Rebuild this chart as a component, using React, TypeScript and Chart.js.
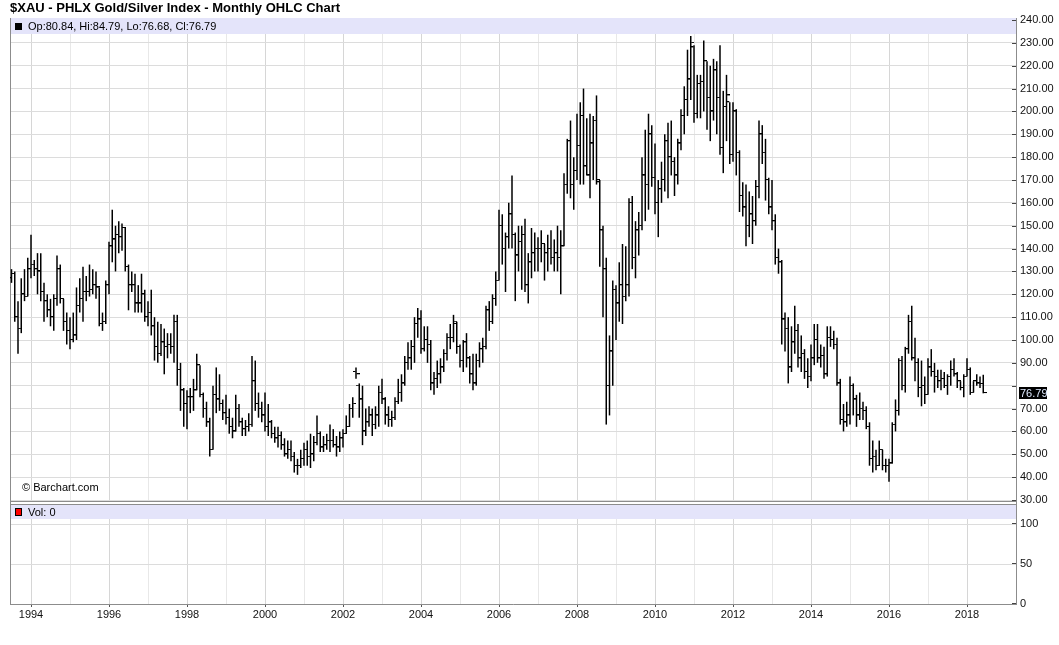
import React, { useEffect, useRef } from 'react';
import { Chart, registerables } from 'chart.js';

Chart.register(...registerables);

// ---------- data (monthly bars, July 1993 .. June 2018) ----------
const startYear = 1993;
const startMonth = 7; // July

const opens = [
  127, 129, 110, 105, 120, 119,
  131, 133, 131, 130, 121, 117, 113, 110, 118, 131, 118, 108,
  104, 100, 102, 115, 118, 121, 121, 122, 124, 123, 107, 108,
  124, 141, 144, 146, 145, 149, 132, 124, 124, 116, 116, 120,
  110, 112, 106, 97, 94, 99, 97, 98, 97, 108, 87, 78,
  72, 75, 75, 78, 89, 76, 70, 64, 52, 76, 74, 72,
  68, 66, 62, 60, 70, 64, 61, 62, 63, 82, 72, 70,
  67, 62, 64, 59, 57, 58, 54, 50, 52, 49, 45, 45,
  48, 52, 49, 50, 55, 59, 53, 54, 56, 56, 54, 53,
  57, 59, 62, 70, 86, 80, 74, 60, 64, 67, 63, 67,
  77, 74, 67, 65, 66, 73, 77, 81, 90, 92, 97, 107,
  109, 96, 100, 98, 81, 83, 85, 88, 94, 101, 101, 107,
  97, 91, 99, 92, 85, 81, 91, 96, 97, 113, 108, 118,
  126, 150, 140, 145, 155, 146, 137, 143, 146, 124, 134, 138,
  140, 140, 142, 138, 140, 136, 138, 136, 141, 168, 187, 168,
  174, 185, 198, 176, 172, 186, 196, 169, 148, 131, 80, 95,
  122, 116, 124, 119, 124, 160, 136, 148, 150, 172, 168, 190,
  171, 160, 166, 170, 187, 180, 178, 172, 186, 198, 205, 214,
  228, 199, 212, 213, 222, 206, 200, 218, 206, 184, 202, 204,
  181, 200, 182, 163, 158, 150, 155, 152, 167, 190, 182, 170,
  158, 152, 136, 134, 109, 105, 88, 99, 104, 92, 94, 86,
  84, 92, 100, 92, 93, 85, 101, 100, 98, 81, 65, 64,
  67, 80, 74, 67, 70, 69, 62, 48, 49, 45, 52, 45,
  45, 46, 63, 69, 91, 80, 96, 108, 92, 90, 79, 80,
  76, 88, 86, 84, 82, 83, 80, 84, 87, 85, 82, 79,
  84, 87, 77, 82, 81, 80.84,
];

const highs = [
  131, 130, 117, 127, 131, 136,
  146, 135, 138, 138, 125, 120, 118, 120, 137, 133, 118, 112,
  110, 112, 123, 127, 132, 128, 133, 131, 130, 123, 112, 126,
  143, 157, 150, 152, 151, 149, 133, 130, 129, 124, 129, 122,
  117, 122, 110, 108, 107, 105, 103, 103, 111, 111, 90, 79,
  78, 79, 83, 94, 89, 77, 73, 66, 80, 88, 85, 74,
  76, 70, 66, 76, 72, 66, 65, 68, 93, 91, 77, 73,
  77, 72, 65, 62, 62, 60, 57, 56, 56, 51, 48, 52,
  55, 56, 59, 58, 67, 60, 58, 59, 63, 61, 58, 60,
  61, 67, 72, 75, 88, 81, 80, 70, 71, 70, 71, 80,
  83, 75, 71, 69, 75, 83, 85, 93, 99, 100, 110, 114,
  113, 106, 106, 100, 86, 91, 92, 96, 103, 107, 111, 108,
  98, 100, 103, 93, 94, 94, 99, 101, 115, 117, 120, 130,
  157, 155, 147, 160, 172, 147, 150, 150, 153, 138, 149, 147,
  145, 148, 142, 146, 148, 144, 150, 148, 173, 188, 196, 180,
  199, 204, 210, 197, 199, 198, 207, 170, 150, 136, 102, 126,
  124, 134, 142, 141, 162, 163, 152, 156, 180, 192, 199, 194,
  186, 170, 178, 190, 195, 196, 180, 188, 201, 211, 227, 233,
  229, 216, 216, 231, 222, 220, 223, 222, 229, 209, 216, 204,
  204, 201, 183, 169, 168, 165, 163, 170, 196, 194, 188, 171,
  170, 155, 140, 135, 112, 110, 106, 115, 107, 102, 96, 92,
  98, 107, 107, 98, 97, 106, 106, 104, 101, 83, 72, 73,
  84, 81, 76, 77, 73, 71, 64, 56, 52, 56, 52, 48,
  48, 64, 74, 92, 93, 97, 111, 115, 101, 92, 91, 84,
  92, 96, 90, 87, 87, 86, 85, 91, 92, 86, 82, 85,
  92, 88, 82, 85, 84, 84.79,
];

const lows = [
  125, 108, 94, 103, 117, 119,
  127, 128, 120, 117, 108, 110, 106, 104, 115, 116, 104, 98,
  96, 99, 100, 112, 108, 117, 119, 120, 118, 106, 104, 107,
  120, 134, 130, 138, 139, 130, 113, 121, 112, 112, 112, 108,
  106, 102, 91, 90, 93, 85, 92, 94, 90, 80, 69, 62,
  61, 68, 69, 78, 75, 66, 62, 49, 52, 68, 69, 65,
  63, 59, 57, 60, 62, 58, 58, 60, 62, 69, 66, 64,
  60, 58, 57, 55, 53, 52, 49, 48, 47, 42, 41, 44,
  45, 45, 44, 47, 54, 51, 51, 52, 51, 53, 49, 51,
  53, 59, 62, 66, 83, 66, 54, 58, 62, 58, 61, 62,
  72, 63, 62, 62, 65, 72, 73, 80, 87, 87, 90, 101,
  94, 95, 90, 78, 76, 79, 81, 86, 91, 96, 99, 94,
  88, 86, 88, 81, 78, 80, 88, 90, 96, 104, 107, 115,
  126, 133, 121, 140, 140, 117, 130, 122, 121, 116, 127, 130,
  130, 134, 126, 130, 133, 130, 130, 120, 141, 164, 162, 157,
  170, 168, 168, 172, 162, 170, 168, 132, 110, 63, 67, 80,
  100, 108, 107, 117, 119, 131, 127, 137, 148, 152, 157, 167,
  155, 145, 160, 165, 162, 172, 163, 168, 183, 190, 198, 205,
  195, 197, 197, 200, 192, 187, 196, 190, 181, 173, 187, 177,
  178, 172, 156, 154, 141, 145, 142, 150, 162, 177, 161, 155,
  148, 133, 129, 98, 95, 81, 86, 94, 88, 86, 83, 79,
  82, 89, 90, 88, 83, 84, 97, 96, 80, 63, 60, 62,
  63, 67, 62, 65, 65, 61, 45, 42, 43, 45, 43, 42,
  38, 46, 60, 67, 78, 77, 94, 91, 82, 75, 71, 72,
  76, 84, 77, 79, 78, 79, 76, 80, 84, 79, 78, 75,
  84, 76, 77, 80, 79, 76.68,
];

const closes = [
  129, 110, 105, 120, 119, 131,
  133, 131, 130, 121, 117, 113, 110, 118, 131, 118, 108, 104,
  100, 102, 115, 118, 121, 121, 122, 124, 123, 107, 108, 124,
  141, 144, 146, 145, 149, 132, 124, 124, 116, 116, 120, 110,
  112, 106, 97, 94, 99, 97, 98, 97, 108, 87, 78, 72,
  75, 75, 78, 89, 76, 70, 64, 52, 76, 74, 72, 68,
  66, 62, 60, 70, 64, 61, 62, 63, 82, 72, 70, 67,
  62, 64, 59, 57, 58, 54, 50, 52, 49, 45, 45, 48,
  52, 49, 50, 55, 59, 53, 54, 56, 56, 54, 53, 57,
  59, 62, 70, 72, 85, 74, 60, 64, 67, 63, 67, 77,
  74, 67, 65, 66, 73, 77, 81, 90, 92, 97, 107, 109,
  96, 100, 98, 81, 83, 85, 88, 94, 101, 101, 108, 97,
  91, 99, 92, 85, 81, 91, 96, 97, 113, 108, 118, 126,
  150, 140, 145, 155, 146, 137, 143, 146, 124, 134, 138, 140,
  140, 142, 138, 140, 136, 138, 136, 141, 168, 187, 168, 174,
  185, 198, 176, 172, 186, 196, 170, 148, 131, 80, 95, 122,
  116, 124, 119, 124, 160, 136, 148, 150, 172, 168, 190, 171,
  160, 166, 170, 187, 180, 178, 172, 186, 198, 205, 214, 230,
  199, 212, 213, 222, 206, 200, 218, 206, 184, 202, 207, 181,
  200, 182, 163, 158, 150, 155, 152, 167, 190, 182, 170, 158,
  152, 136, 134, 109, 105, 88, 99, 104, 92, 94, 86, 84,
  92, 100, 92, 93, 85, 101, 100, 98, 81, 65, 64, 67,
  80, 74, 67, 70, 69, 62, 48, 49, 45, 52, 45, 45,
  46, 63, 69, 91, 80, 96, 108, 92, 90, 79, 80, 76,
  88, 86, 84, 82, 83, 80, 84, 87, 85, 82, 79, 84,
  87, 77, 82, 81, 80.8, 76.79,
];

const volumeLast = 0;
const yearTicks = [1994, 1995, 1996, 1997, 1998, 1999, 2000, 2001, 2002, 2003, 2004, 2005, 2006,
  2007, 2008, 2009, 2010, 2011, 2012, 2013, 2014, 2015, 2016, 2017, 2018];
const priceTicks = [30, 40, 50, 60, 70, 80, 90, 100, 110, 120, 130, 140, 150, 160, 170, 180, 190,
  200, 210, 220, 230, 240];
const volTicks = [0, 50, 100];

const TITLE = '$XAU - PHLX Gold/Silver Index - Monthly OHLC Chart';
const FONT = '"Liberation Sans", Arial, Helvetica, sans-serif';
const BAND = '#e4e4fa';
const FRAME = '#8c8c8c';

// decimal-year date of each monthly bar
const dates = closes.map((_, i) => startYear + (startMonth - 1 + i) / 12);

function makeTick(side: 'left' | 'right'): HTMLCanvasElement {
  const c = document.createElement('canvas');
  c.width = 7;
  c.height = 2;
  const g = c.getContext('2d')!;
  g.fillStyle = '#000';
  if (side === 'left') g.fillRect(0, 0, 3, 1);
  else g.fillRect(4, 0, 3, 1);
  return c;
}

const decorPlugin = {
  id: 'decor',
  beforeDatasetsDraw(chart: any) {
    const { ctx, chartArea: a, scales } = chart;
    const ym = scales.y;
    const split = ym.bottom;
    const w = a.right - a.left;
    ctx.save();
    ctx.fillStyle = '#fff';
    ctx.fillRect(a.left, split, w, 3);
    ctx.fillStyle = BAND;
    ctx.fillRect(a.left, a.top, w, 16);
    ctx.fillRect(a.left, split + 3, w, 15);
    ctx.strokeStyle = FRAME;
    ctx.lineWidth = 1;
    ctx.beginPath();
    ctx.moveTo(a.left + 0.5, a.top);
    ctx.lineTo(a.left + 0.5, a.bottom);
    ctx.moveTo(a.left, Math.round(split) + 0.5);
    ctx.lineTo(a.right, Math.round(split) + 0.5);
    ctx.moveTo(a.left, Math.round(split) + 3.5);
    ctx.lineTo(a.right, Math.round(split) + 3.5);
    ctx.stroke();
    ctx.strokeStyle = '#444';
    ctx.beginPath();
    for (const v of priceTicks) {
      const p = Math.round(ym.getPixelForValue(v)) + 0.5;
      ctx.moveTo(a.right - 4, p);
      ctx.lineTo(a.right, p);
    }
    for (const v of volTicks) {
      const p = Math.round(scales.yVol.getPixelForValue(v)) - 0.5;
      ctx.moveTo(a.right - 4, p);
      ctx.lineTo(a.right, p);
    }
    ctx.stroke();
    const n = closes.length - 1;
    ctx.fillStyle = '#000';
    ctx.fillRect(a.left + 5, a.top + 5, 7, 7);
    ctx.font = '11px ' + FONT;
    ctx.textBaseline = 'middle';
    ctx.textAlign = 'left';
    ctx.fillText(
      `Op:${opens[n].toFixed(2)}, Hi:${highs[n].toFixed(2)}, Lo:${lows[n].toFixed(2)}, Cl:${closes[n].toFixed(2)}`,
      a.left + 18, a.top + 8.5);
    ctx.fillText('\u00a9 Barchart.com', a.left + 12, split - 13);
    ctx.fillStyle = '#ff0000';
    ctx.fillRect(a.left + 5.5, split + 7.5, 6, 7);
    ctx.strokeStyle = '#000';
    ctx.strokeRect(a.left + 5.5, split + 7.5, 6, 7);
    ctx.fillStyle = '#000';
    ctx.fillText(`Vol: ${volumeLast}`, a.left + 18, split + 11.5);
    ctx.restore();
  },
  afterDraw(chart: any) {
    const { ctx, chartArea: a, scales } = chart;
    const n = closes.length - 1;
    const p = scales.y.getPixelForValue(closes[n]);
    ctx.save();
    ctx.fillStyle = '#000';
    ctx.fillRect(a.right + 3, Math.round(p) - 6, 28, 12);
    ctx.fillStyle = '#dfeaff';
    ctx.font = '11px ' + FONT;
    ctx.textBaseline = 'middle';
    ctx.textAlign = 'left';
    ctx.fillText(closes[n].toFixed(2), a.right + 4, Math.round(p) + 0.5);
    ctx.restore();
  },
};

export default function App() {
  const ref = useRef<HTMLCanvasElement>(null);

  useEffect(() => {
    const canvas = ref.current;
    if (!canvas) return;
    const openTick = makeTick('left');
    const closeTick = makeTick('right');

    const chart = new Chart(canvas, {
      type: 'bar',
      data: {
        datasets: [
          {
            type: 'bar',
            label: 'High-Low',
            data: dates.map((d, i) => ({ x: d, y: [lows[i], highs[i]] })) as any,
            backgroundColor: '#000',
            borderWidth: 0,
            barThickness: 1.5,
            inflateAmount: 0,
            xAxisID: 'x',
            yAxisID: 'y',
          } as any,
          {
            type: 'scatter',
            label: 'Open',
            data: dates.map((d, i) => ({ x: d, y: opens[i] })),
            pointStyle: openTick as any,
            pointRadius: 2,
            pointHoverRadius: 2,
            showLine: false,
            xAxisID: 'x',
            yAxisID: 'y',
          } as any,
          {
            type: 'scatter',
            label: 'Close',
            data: dates.map((d, i) => ({ x: d, y: closes[i] })),
            pointStyle: closeTick as any,
            pointRadius: 2,
            pointHoverRadius: 2,
            showLine: false,
            xAxisID: 'x',
            yAxisID: 'y',
          } as any,
        ],
      },
      options: {
        animation: false,
        responsive: false,
        devicePixelRatio: 1,
        events: [],
        layout: { padding: { left: 10, right: 0, top: 0, bottom: 0 } },
        plugins: {
          legend: { display: false },
          tooltip: { enabled: false },
          title: {
            display: true,
            text: TITLE,
            align: 'start',
            color: '#000',
            font: { family: FONT, size: 13, weight: 'bold' },
            padding: { top: 1, bottom: 1.4 },
          },
        },
        scales: {
          x: {
            type: 'linear',
            min: 1993.4615,
            max: 2019.2564,
            offset: false,
            afterBuildTicks: (s: any) => {
              s.ticks = yearTicks.map((v) => ({ value: v }));
            },
            afterFit: (s: any) => {
              s.height = 41;
            },
            ticks: {
              autoSkip: false,
              maxRotation: 0,
              padding: 1,
              color: '#111',
              font: { family: FONT, size: 11 },
              callback: (v: any) => (Number(v) % 2 === 0 ? String(v) : ''),
            },
            grid: {
              offset: false,
              color: (c: any) => (c.tick && c.tick.value % 2 === 0 ? '#d6d6d6' : '#e8e8e8'),
              tickColor: (c: any) => (c.tick && c.tick.value % 2 === 0 ? '#555' : 'rgba(0,0,0,0)'),
              tickLength: 3,
            },
            border: { display: true, color: FRAME },
          },
          y: {
            type: 'linear',
            position: 'right',
            stack: 'panes',
            stackWeight: 483,
            min: 29.5625,
            max: 240.875,
            afterBuildTicks: (s: any) => {
              s.ticks = priceTicks.map((v) => ({ value: v }));
            },
            afterFit: (s: any) => {
              s.width = 43;
            },
            ticks: {
              autoSkip: false,
              padding: 4,
              color: '#111',
              font: { family: FONT, size: 11 },
              callback: (v: any) => (Number(v) === 80 ? '' : Number(v).toFixed(2)),
            },
            grid: { color: '#dcdcdc', drawTicks: false },
            border: { display: true, color: FRAME },
          },
          yVol: {
            type: 'linear',
            position: 'right',
            stack: 'panes',
            stackWeight: 103,
            min: 0,
            max: 128.75,
            afterBuildTicks: (s: any) => {
              s.ticks = volTicks.map((v) => ({ value: v }));
            },
            afterFit: (s: any) => {
              s.width = 43;
            },
            ticks: {
              autoSkip: false,
              padding: 4,
              color: '#111',
              font: { family: FONT, size: 11 },
              callback: (v: any) => String(v),
            },
            grid: { color: '#dcdcdc', drawTicks: false },
            border: { display: true, color: FRAME },
          },
        },
      } as any,
      plugins: [decorPlugin],
    });

    return () => chart.destroy();
  }, []);

  return (
    <div style={{ position: 'absolute', left: 0, top: 0, width: 1059, height: 645, background: '#fff' }}>
      <canvas ref={ref} width={1059} height={645} style={{ display: 'block' }} />
    </div>
  );
}
